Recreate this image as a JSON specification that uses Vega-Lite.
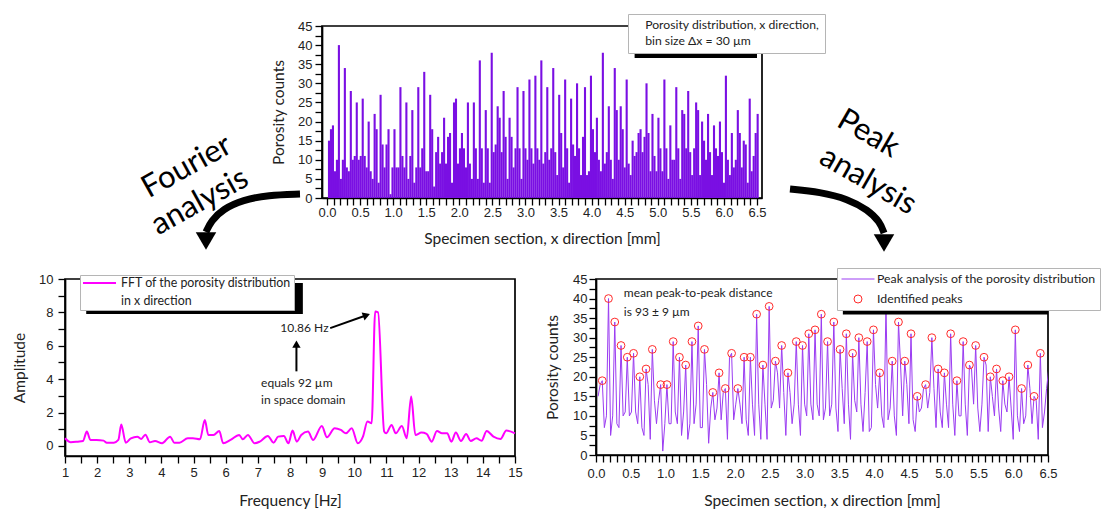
{
  "$schema": "https://vega.github.io/schema/vega-lite/v6.json",
  "background": "white",
  "padding": {"left": 11, "top": 12, "right": 0, "bottom": 2},
  "spacing": 14,
  "resolve": {"scale": {"color": "independent"}, "legend": {"color": "independent"}},
  "datasets": {
    "bins": [
      {"x":0.03,"n":15},{"x":0.06,"n":18},{"x":0.09,"n":19},{"x":0.12,"n":7},{"x":0.15,"n":10},{"x":0.18,"n":40},{"x":0.21,"n":5},{"x":0.24,"n":10},{"x":0.27,"n":34},{"x":0.30,"n":8},
      {"x":0.33,"n":7},{"x":0.36,"n":28},{"x":0.39,"n":10},{"x":0.42,"n":11},{"x":0.45,"n":25},{"x":0.48,"n":10},{"x":0.51,"n":11},{"x":0.54,"n":26},{"x":0.57,"n":11},{"x":0.60,"n":8},
      {"x":0.63,"n":20},{"x":0.66,"n":7},{"x":0.69,"n":5},{"x":0.72,"n":22},{"x":0.75,"n":18},{"x":0.78,"n":4},{"x":0.81,"n":27},{"x":0.84,"n":14},{"x":0.87,"n":8},{"x":0.90,"n":14},
      {"x":0.93,"n":18},{"x":0.96,"n":1},{"x":0.99,"n":8},{"x":1.02,"n":18},{"x":1.05,"n":8},{"x":1.08,"n":8},{"x":1.11,"n":29},{"x":1.14,"n":11},{"x":1.17,"n":8},{"x":1.20,"n":25},
      {"x":1.23,"n":5},{"x":1.26,"n":11},{"x":1.29,"n":23},{"x":1.32,"n":4},{"x":1.35,"n":8},{"x":1.38,"n":29},{"x":1.41,"n":8},{"x":1.44,"n":13},{"x":1.47,"n":33},{"x":1.50,"n":7},
      {"x":1.53,"n":7},{"x":1.56,"n":27},{"x":1.59,"n":18},{"x":1.62,"n":3},{"x":1.65,"n":12},{"x":1.68,"n":16},{"x":1.71,"n":9},{"x":1.74,"n":12},{"x":1.77,"n":21},{"x":1.80,"n":9},
      {"x":1.83,"n":16},{"x":1.86,"n":17},{"x":1.89,"n":4},{"x":1.92,"n":25},{"x":1.95,"n":26},{"x":1.98,"n":9},{"x":2.01,"n":13},{"x":2.04,"n":17},{"x":2.07,"n":13},{"x":2.10,"n":8},
      {"x":2.13,"n":25},{"x":2.16,"n":9},{"x":2.19,"n":5},{"x":2.22,"n":25},{"x":2.25,"n":13},{"x":2.28,"n":5},{"x":2.31,"n":36},{"x":2.34,"n":13},{"x":2.37,"n":4},{"x":2.40,"n":23},
      {"x":2.43,"n":13},{"x":2.46,"n":4},{"x":2.49,"n":38},{"x":2.52,"n":12},{"x":2.55,"n":14},{"x":2.58,"n":24},{"x":2.61,"n":21},{"x":2.64,"n":12},{"x":2.67,"n":28},{"x":2.70,"n":16},
      {"x":2.73,"n":5},{"x":2.76,"n":21},{"x":2.79,"n":16},{"x":2.82,"n":8},{"x":2.85,"n":13},{"x":2.88,"n":29},{"x":2.91,"n":13},{"x":2.94,"n":5},{"x":2.97,"n":28},{"x":3.00,"n":13},
      {"x":3.03,"n":10},{"x":3.06,"n":31},{"x":3.09,"n":13},{"x":3.12,"n":9},{"x":3.15,"n":32},{"x":3.18,"n":13},{"x":3.21,"n":10},{"x":3.24,"n":36},{"x":3.27,"n":9},{"x":3.30,"n":12},
      {"x":3.33,"n":29},{"x":3.36,"n":10},{"x":3.39,"n":13},{"x":3.42,"n":34},{"x":3.45,"n":12},{"x":3.48,"n":6},{"x":3.51,"n":27},{"x":3.54,"n":17},{"x":3.57,"n":8},{"x":3.60,"n":31},
      {"x":3.63,"n":13},{"x":3.66,"n":4},{"x":3.69,"n":26},{"x":3.72,"n":14},{"x":3.75,"n":11},{"x":3.78,"n":30},{"x":3.81,"n":13},{"x":3.84,"n":6},{"x":3.87,"n":16},{"x":3.90,"n":29},
      {"x":3.93,"n":6},{"x":3.96,"n":7},{"x":3.99,"n":32},{"x":4.02,"n":18},{"x":4.05,"n":12},{"x":4.08,"n":21},{"x":4.11,"n":10},{"x":4.14,"n":7},{"x":4.17,"n":38},{"x":4.20,"n":9},
      {"x":4.23,"n":12},{"x":4.26,"n":24},{"x":4.29,"n":10},{"x":4.32,"n":5},{"x":4.35,"n":34},{"x":4.38,"n":23},{"x":4.41,"n":10},{"x":4.44,"n":24},{"x":4.47,"n":18},{"x":4.50,"n":8},
      {"x":4.53,"n":31},{"x":4.56,"n":9},{"x":4.59,"n":6},{"x":4.62,"n":15},{"x":4.65,"n":11},{"x":4.68,"n":12},{"x":4.71,"n":17},{"x":4.74,"n":18},{"x":4.77,"n":12},{"x":4.80,"n":16},
      {"x":4.83,"n":30},{"x":4.86,"n":17},{"x":4.89,"n":7},{"x":4.92,"n":22},{"x":4.95,"n":11},{"x":4.98,"n":7},{"x":5.01,"n":21},{"x":5.04,"n":13},{"x":5.07,"n":7},{"x":5.10,"n":31},
      {"x":5.13,"n":13},{"x":5.16,"n":5},{"x":5.19,"n":19},{"x":5.22,"n":10},{"x":5.25,"n":10},{"x":5.28,"n":29},{"x":5.31,"n":13},{"x":5.34,"n":5},{"x":5.37,"n":23},{"x":5.40,"n":22},
      {"x":5.43,"n":13},{"x":5.46,"n":28},{"x":5.49,"n":12},{"x":5.52,"n":6},{"x":5.55,"n":13},{"x":5.58,"n":25},{"x":5.61,"n":23},{"x":5.64,"n":6},{"x":5.67,"n":20},{"x":5.70,"n":15},
      {"x":5.73,"n":10},{"x":5.76,"n":22},{"x":5.79,"n":12},{"x":5.82,"n":6},{"x":5.85,"n":19},{"x":5.88,"n":13},{"x":5.91,"n":11},{"x":5.94,"n":20},{"x":5.97,"n":12},{"x":6.00,"n":4},
      {"x":6.03,"n":32},{"x":6.06,"n":10},{"x":6.09,"n":6},{"x":6.12,"n":17},{"x":6.15,"n":8},{"x":6.18,"n":10},{"x":6.21,"n":23},{"x":6.24,"n":17},{"x":6.27,"n":8},{"x":6.30,"n":15},
      {"x":6.33,"n":14},{"x":6.36,"n":4},{"x":6.39,"n":26},{"x":6.42,"n":7},{"x":6.45,"n":11},{"x":6.48,"n":17},{"x":6.51,"n":22}
    ],
    "peaks": [
      {"x":0.09,"n":19},{"x":0.18,"n":40},{"x":0.27,"n":34},{"x":0.36,"n":28},{"x":0.45,"n":25},{"x":0.54,"n":26},{"x":0.63,"n":20},{"x":0.72,"n":22},{"x":0.81,"n":27},{"x":0.93,"n":18},
      {"x":1.02,"n":18},{"x":1.11,"n":29},{"x":1.20,"n":25},{"x":1.29,"n":23},{"x":1.38,"n":29},{"x":1.47,"n":33},{"x":1.56,"n":27},{"x":1.68,"n":16},{"x":1.77,"n":21},{"x":1.86,"n":17},
      {"x":1.95,"n":26},{"x":2.04,"n":17},{"x":2.13,"n":25},{"x":2.22,"n":25},{"x":2.31,"n":36},{"x":2.40,"n":23},{"x":2.49,"n":38},{"x":2.58,"n":24},{"x":2.67,"n":28},{"x":2.76,"n":21},
      {"x":2.88,"n":29},{"x":2.97,"n":28},{"x":3.06,"n":31},{"x":3.15,"n":32},{"x":3.24,"n":36},{"x":3.33,"n":29},{"x":3.42,"n":34},{"x":3.51,"n":27},{"x":3.60,"n":31},{"x":3.69,"n":26},
      {"x":3.78,"n":30},{"x":3.90,"n":29},{"x":3.99,"n":32},{"x":4.08,"n":21},{"x":4.17,"n":38},{"x":4.26,"n":24},{"x":4.35,"n":34},{"x":4.44,"n":24},{"x":4.53,"n":31},{"x":4.62,"n":15},
      {"x":4.74,"n":18},{"x":4.83,"n":30},{"x":4.92,"n":22},{"x":5.01,"n":21},{"x":5.10,"n":31},{"x":5.19,"n":19},{"x":5.28,"n":29},{"x":5.37,"n":23},{"x":5.46,"n":28},{"x":5.58,"n":25},
      {"x":5.67,"n":20},{"x":5.76,"n":22},{"x":5.85,"n":19},{"x":5.94,"n":20},{"x":6.03,"n":32},{"x":6.12,"n":17},{"x":6.21,"n":23},{"x":6.30,"n":15},{"x":6.39,"n":26}
    ],
    "fft": [
      {"f":1.0,"a":0.46},{"f":1.18,"a":0.22},{"f":1.4,"a":0.26},{"f":1.56,"a":0.3},{"f":1.68,"a":0.86},{"f":1.79,"a":0.36},{"f":1.98,"a":0.36},{"f":2.2,"a":0.32},{"f":2.3,"a":0.2},{"f":2.52,"a":0.2},
      {"f":2.66,"a":0.36},{"f":2.75,"a":1.28},{"f":2.89,"a":0.2},{"f":3.05,"a":0.46},{"f":3.25,"a":0.56},{"f":3.37,"a":0.42},{"f":3.5,"a":0.68},{"f":3.64,"a":0.22},{"f":3.8,"a":0.3},{"f":4.02,"a":0.16},
      {"f":4.27,"a":0.56},{"f":4.4,"a":0.2},{"f":4.56,"a":0.2},{"f":4.82,"a":0.46},{"f":4.98,"a":0.46},{"f":5.2,"a":0.4},{"f":5.35,"a":1.55},{"f":5.46,"a":0.66},{"f":5.62,"a":0.66},{"f":5.8,"a":0.9},
      {"f":5.92,"a":0.16},{"f":6.15,"a":0.36},{"f":6.42,"a":0.66},{"f":6.53,"a":0.4},{"f":6.69,"a":0.66},{"f":6.9,"a":0.16},{"f":7.06,"a":0.26},{"f":7.31,"a":0.6},{"f":7.49,"a":0.2},{"f":7.63,"a":0.56},
      {"f":7.81,"a":0.6},{"f":7.95,"a":0.16},{"f":8.08,"a":0.92},{"f":8.21,"a":0.26},{"f":8.35,"a":0.66},{"f":8.56,"a":0.86},{"f":8.72,"a":0.36},{"f":8.99,"a":1.2},{"f":9.15,"a":0.52},{"f":9.39,"a":1.06},
      {"f":9.58,"a":0.96},{"f":9.74,"a":0.76},{"f":9.92,"a":1.06},{"f":10.11,"a":0.16},{"f":10.27,"a":0.56},{"f":10.41,"a":1.46},{"f":10.54,"a":1.36},{"f":10.65,"a":8.05},{"f":10.74,"a":8.0},{"f":10.93,"a":0.86},
      {"f":10.99,"a":0.76},{"f":11.16,"a":1.26},{"f":11.29,"a":0.76},{"f":11.48,"a":1.2},{"f":11.63,"a":0.46},{"f":11.77,"a":2.96},{"f":11.9,"a":0.66},{"f":12.09,"a":0.8},{"f":12.25,"a":0.72},{"f":12.41,"a":0.26},
      {"f":12.57,"a":0.9},{"f":12.73,"a":0.76},{"f":12.89,"a":0.76},{"f":13.02,"a":0.26},{"f":13.16,"a":0.8},{"f":13.32,"a":0.3},{"f":13.48,"a":0.72},{"f":13.62,"a":0.3},{"f":13.8,"a":0.46},{"f":13.96,"a":0.32},
      {"f":14.12,"a":0.9},{"f":14.33,"a":0.56},{"f":14.55,"a":0.42},{"f":14.73,"a":0.92},{"f":15.0,"a":0.76}
    ]
  },
  "vconcat": [
    {
      "spacing": 0,
      "bounds": "flush",
      "resolve": {"scale": {"color": "independent"}, "legend": {"color": "independent"}},
      "hconcat": [
        {
          "width": 257,
          "height": 172,
          "view": {"stroke": null},
          "encoding": {
            "x": {"field": "u", "type": "quantitative", "scale": {"domain": [0, 257], "nice": false, "zero": false}, "axis": null},
            "y": {"field": "v", "type": "quantitative", "scale": {"domain": [0, 172], "nice": false, "zero": false, "reverse": true}, "axis": null}
          },
          "layer": [
            {
              "data": {"values": [
                {"arrow": "L", "i": 0, "u": 235, "v": 168}, {"arrow": "L", "i": 1, "u": 203, "v": 169}, {"arrow": "L", "i": 2, "u": 178, "v": 174}, {"arrow": "L", "i": 3, "u": 158, "v": 183}, {"arrow": "L", "i": 4, "u": 146, "v": 195}, {"arrow": "L", "i": 5, "u": 141, "v": 206},
                {"arrow": "R", "i": 0, "u": 725, "v": 163}, {"arrow": "R", "i": 1, "u": 755, "v": 166}, {"arrow": "R", "i": 2, "u": 783, "v": 173}, {"arrow": "R", "i": 3, "u": 803, "v": 184}, {"arrow": "R", "i": 4, "u": 815, "v": 196}, {"arrow": "R", "i": 5, "u": 819, "v": 207}
              ]},
              "mark": {"type": "line", "interpolate": "basis", "strokeWidth": 7, "color": "black", "strokeCap": "butt"},
              "encoding": {"detail": {"field": "arrow"}, "order": {"field": "i"}}
            },
            {
              "data": {"values": [{"u": 141, "v": 215}, {"u": 819, "v": 217}]},
              "mark": {"type": "point", "shape": "triangle-down", "size": 420, "filled": true, "color": "black", "opacity": 1}
            },
            {
              "data": {"values": [{"u": 122, "v": 141, "t": "Fourier"}, {"u": 135, "v": 176, "t": "analysis"}]},
              "mark": {"type": "text", "angle": -29, "font": "Lato", "fontSize": 31, "color": "black", "align": "center", "baseline": "middle"},
              "encoding": {"text": {"field": "t"}}
            },
            {
              "data": {"values": [{"u": 803, "v": 108, "t": "Peak"}, {"u": 803, "v": 155, "t": "analysis"}]},
              "mark": {"type": "text", "angle": 30, "font": "Lato", "fontSize": 31, "color": "black", "align": "center", "baseline": "middle"},
              "encoding": {"text": {"field": "t"}}
            }
          ]
        },
        {
          "width": 440,
          "height": 172,
          "encoding": {
            "x": {"field": "x", "type": "quantitative", "title": "Specimen section, x direction [mm]",
              "scale": {"domain": [0, 6.5], "nice": false, "zero": false},
              "axis": {"values": [0,0.1,0.2,0.3,0.4,0.5,0.6,0.7,0.8,0.9,1,1.1,1.2,1.3,1.4,1.5,1.6,1.7,1.8,1.9,2,2.1,2.2,2.3,2.4,2.5,2.6,2.7,2.8,2.9,3,3.1,3.2,3.3,3.4,3.5,3.6,3.7,3.8,3.9,4,4.1,4.2,4.3,4.4,4.5,4.6,4.7,4.8,4.9,5,5.1,5.2,5.3,5.4,5.5,5.6,5.7,5.8,5.9,6,6.1,6.2,6.3,6.4,6.5],
                "labelExpr": "abs(datum.value*2-round(datum.value*2))<0.001 ? format(datum.value,'.1f') : ''",
                "labelOverlap": false, "labelFlush": false, "labelPadding": 1, "titlePadding": 12, "labelFontSize": 13,
                "encode": {"ticks": {"update": {"y2": {"signal": "abs(datum.value*2-round(datum.value*2))<0.001 ? 7 : 4"}}}}}},
            "y": {"field": "n", "type": "quantitative", "title": "Porosity counts",
              "scale": {"domain": [0, 45], "nice": false},
              "axis": {"values": [0,2.5,5,7.5,10,12.5,15,17.5,20,22.5,25,27.5,30,32.5,35,37.5,40,42.5,45],
                "labelExpr": "abs(datum.value/5-round(datum.value/5))<0.001 ? format(datum.value,'d') : ''",
                "labelOverlap": false, "labelFlush": false, "labelPadding": 3, "titlePadding": 11, "labelFontSize": 13,
                "encode": {"ticks": {"update": {"x2": {"signal": "abs(datum.value/5-round(datum.value/5))<0.001 ? -7 : -4"}}}}}}
          },
          "layer": [
            {
              "data": {"name": "bins"},
              "mark": {"type": "bar", "width": 2.1, "clip": true},
              "encoding": {
                "color": {"datum": "Porosity distribution", "scale": {"range": ["#7a0fe3"]},
                  "legend": {"orient": "none", "legendX": 306, "legendY": -12, "title": null, "symbolSize": 0, "symbolOpacity": 0, "symbolStrokeWidth": 0, "labelOffset": 0, "padding": 5,
                    "fillColor": "white", "strokeColor": "#b5b5b5", "labelFont": "Lato", "labelFontSize": 12.2, "labelColor": "#222", "labelLimit": 400,
                    "labelExpr": "['Porosity distribution, x direction,', 'bin size Δx = 30 µm']",
                    "encode": {"labels": {"update": {"lineHeight": {"value": 16}}}}}}
              }
            },
            {
              "data": {"values": [{"x": 4.65, "x2": 6.5, "n": 36.6, "n2": 40}]},
              "mark": {"type": "rect", "color": "black", "clip": true},
              "encoding": {"x2": {"field": "x2"}, "y2": {"field": "n2"}}
            }
          ]
        }
      ]
    },
    {
      "spacing": 81,
      "bounds": "flush",
      "resolve": {"scale": {"color": "independent"}, "legend": {"color": "independent"}},
      "hconcat": [
        {
          "width": 450,
          "height": 177,
          "encoding": {
            "x": {"field": "f", "type": "quantitative", "title": "Frequency [Hz]",
              "scale": {"domain": [1, 15], "nice": false, "zero": false},
              "axis": {"values": [1,1.5,2,2.5,3,3.5,4,4.5,5,5.5,6,6.5,7,7.5,8,8.5,9,9.5,10,10.5,11,11.5,12,12.5,13,13.5,14,14.5,15],
                "labelExpr": "abs(datum.value-round(datum.value))<0.001 ? format(datum.value,'d') : ''",
                "labelOverlap": false, "labelFlush": false, "labelPadding": 3, "titlePadding": 14, "labelFontSize": 13,
                "encode": {"ticks": {"update": {"y2": {"signal": "abs(datum.value-round(datum.value))<0.001 ? 7 : 4"}}}}}},
            "y": {"field": "a", "type": "quantitative", "title": "Amplitude",
              "scale": {"domain": [-0.6, 10], "nice": false, "zero": false},
              "axis": {"values": [0,1,2,3,4,5,6,7,8,9,10],
                "labelExpr": "abs(datum.value/2-round(datum.value/2))<0.001 ? format(datum.value,'d') : ''",
                "labelOverlap": false, "labelFlush": false, "labelPadding": 5, "titlePadding": 11, "labelFontSize": 13,
                "encode": {"ticks": {"update": {"x2": {"signal": "abs(datum.value/2-round(datum.value/2))<0.001 ? -7 : -4"}}}}}}
          },
          "layer": [
            {
              "data": {"name": "fft"},
              "mark": {"type": "line", "strokeWidth": 2, "interpolate": "monotone"},
              "encoding": {
                "color": {"datum": "FFT", "scale": {"range": ["#ff00ff"]},
                  "legend": {"orient": "none", "legendX": 15, "legendY": -4, "title": null, "symbolType": "M-1,0H1", "symbolSize": 1089, "symbolStrokeWidth": 2, "labelOffset": 4, "padding": 2, "clipHeight": 12,
                    "fillColor": "white", "strokeColor": "#b5b5b5", "labelFont": "Lato", "labelFontSize": 12.4, "labelColor": "#222", "labelLimit": 400,
                    "labelExpr": "['FFT of the porosity distribution', 'in x direction']",
                    "encode": {"labels": {"update": {"lineHeight": {"value": 18}}}}}}
              }
            },
            {
              "data": {"values": [{"f": 1.66, "f2": 8.4, "a": 7.9, "a2": 9.76}]},
              "mark": {"type": "rect", "color": "black", "clip": true},
              "encoding": {"x2": {"field": "f2"}, "y2": {"field": "a2"}}
            },
            {
              "data": {"values": [{"f": 9.25, "a": 7.06, "f2": 10.4, "a2": 7.84}, {"f": 8.2, "a": 4.47, "f2": 8.2, "a2": 6.0}]},
              "mark": {"type": "rule", "strokeWidth": 2, "color": "black"},
              "encoding": {"x2": {"field": "f2"}, "y2": {"field": "a2"}}
            },
            {
              "data": {"values": [{"f": 10.38, "a": 7.83}]},
              "mark": {"type": "point", "shape": "triangle-right", "angle": -20, "size": 70, "filled": true, "color": "black", "opacity": 1}
            },
            {
              "data": {"values": [{"f": 8.2, "a": 6.1}]},
              "mark": {"type": "point", "shape": "triangle-up", "size": 70, "filled": true, "color": "black", "opacity": 1}
            },
            {
              "data": {"values": [{"f": 7.7, "a": 7.05, "t": "10.86 Hz"}, {"f": 7.1, "a": 3.75, "t": "equals 92 µm"}, {"f": 7.1, "a": 2.77, "t": "in space domain"}]},
              "mark": {"type": "text", "align": "left", "baseline": "middle", "font": "Lato", "fontSize": 12, "color": "#222"},
              "encoding": {"text": {"field": "t"}}
            }
          ]
        },
        {
          "width": 452,
          "height": 176,
          "encoding": {
            "x": {"field": "x", "type": "quantitative", "title": "Specimen section, x direction [mm]",
              "scale": {"domain": [0, 6.5], "nice": false, "zero": false},
              "axis": {"values": [0,0.1,0.2,0.3,0.4,0.5,0.6,0.7,0.8,0.9,1,1.1,1.2,1.3,1.4,1.5,1.6,1.7,1.8,1.9,2,2.1,2.2,2.3,2.4,2.5,2.6,2.7,2.8,2.9,3,3.1,3.2,3.3,3.4,3.5,3.6,3.7,3.8,3.9,4,4.1,4.2,4.3,4.4,4.5,4.6,4.7,4.8,4.9,5,5.1,5.2,5.3,5.4,5.5,5.6,5.7,5.8,5.9,6,6.1,6.2,6.3,6.4,6.5],
                "labelExpr": "abs(datum.value*2-round(datum.value*2))<0.001 ? format(datum.value,'.1f') : ''",
                "labelOverlap": false, "labelFlush": false, "labelPadding": 5, "titlePadding": 13, "labelFontSize": 13,
                "encode": {"ticks": {"update": {"y2": {"signal": "abs(datum.value*2-round(datum.value*2))<0.001 ? 7 : 4"}}}}}},
            "y": {"field": "n", "type": "quantitative", "title": "Porosity counts",
              "scale": {"domain": [0, 45], "nice": false},
              "axis": {"values": [0,2.5,5,7.5,10,12.5,15,17.5,20,22.5,25,27.5,30,32.5,35,37.5,40,42.5,45],
                "labelExpr": "abs(datum.value/5-round(datum.value/5))<0.001 ? format(datum.value,'d') : ''",
                "labelOverlap": false, "labelFlush": false, "labelPadding": 2, "titlePadding": 12, "labelFontSize": 13,
                "encode": {"ticks": {"update": {"x2": {"signal": "abs(datum.value/5-round(datum.value/5))<0.001 ? -7 : -4"}}}}}}
          },
          "layer": [
            {
              "data": {"name": "bins"},
              "mark": {"type": "line", "strokeWidth": 1, "clip": true},
              "encoding": {
                "color": {"datum": "Peak analysis of the porosity distribution",
                  "scale": {"domain": ["Peak analysis of the porosity distribution", "Identified peaks"], "range": ["#9b3cf2", "#ff2a2a"]},
                  "legend": {"orient": "none", "legendX": 241, "legendY": -11, "title": null, "symbolType": "circle", "symbolSize": 1089, "symbolStrokeWidth": 1, "labelOffset": 2, "padding": 4, "rowPadding": 6, "clipHeight": 14,
                    "fillColor": "white", "strokeColor": "#b5b5b5", "labelFont": "Lato", "labelFontSize": 12.3, "labelColor": "#222", "labelLimit": 400,
                    "encode": {"symbols": {"update": {
                      "shape": {"signal": "datum.value === 'Identified peaks' ? 'circle' : 'M-1,0H1'"},
                      "size": {"signal": "datum.value === 'Identified peaks' ? 64 : 1089"},
                      "fill": {"value": "transparent"},
                      "stroke": {"signal": "datum.value === 'Identified peaks' ? '#ff2a2a' : '#b070f5'"},
                      "strokeWidth": {"value": 1},
                      "opacity": {"value": 1}
                    }}}}}
              }
            },
            {
              "data": {"name": "peaks"},
              "mark": {"type": "point", "shape": "circle", "filled": false, "size": 60, "strokeWidth": 1, "opacity": 1},
              "encoding": {"color": {"datum": "Identified peaks"}}
            },
            {
              "data": {"values": [{"x": 3.55, "x2": 6.5, "n": 35.9, "n2": 40}]},
              "mark": {"type": "rect", "color": "black", "clip": true},
              "encoding": {"x2": {"field": "x2"}, "y2": {"field": "n2"}}
            },
            {
              "data": {"values": [{"x": 0.4, "n": 41.3, "t": "mean peak-to-peak distance"}, {"x": 0.4, "n": 36.6, "t": "is 93 ± 9 µm"}]},
              "mark": {"type": "text", "align": "left", "baseline": "middle", "font": "Lato", "fontSize": 12, "color": "#222"},
              "encoding": {"text": {"field": "t"}}
            }
          ]
        }
      ]
    }
  ],
  "config": {
    "font": "Lato",
    "view": {"stroke": "black", "strokeWidth": 1.7},
    "axis": {
      "grid": false,
      "domainColor": "black", "domainWidth": 1.7,
      "tickColor": "black", "tickWidth": 1.3, "tickSize": 7,
      "labelFont": "Liberation Sans", "labelColor": "#222",
      "titleFont": "Lato", "titleFontSize": 15.5, "titleFontWeight": "normal", "titleColor": "#222"
    }
  }
}
